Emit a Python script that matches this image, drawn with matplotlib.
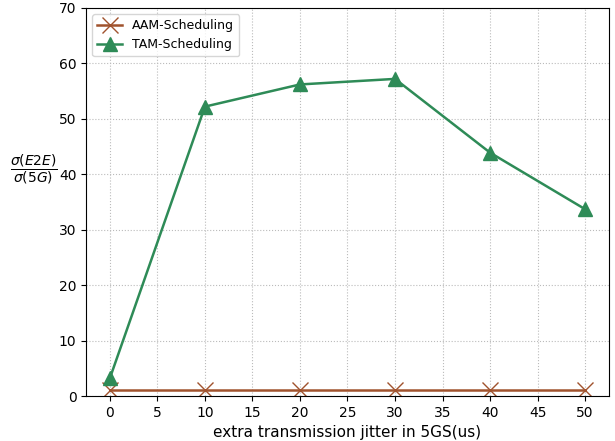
import matplotlib
matplotlib.use('Agg')
import matplotlib.pyplot as plt

jitter = [0, 10, 20, 30, 40, 50]
aam = [1.0, 1.0, 1.0, 1.0, 1.0, 1.0]
tam = [3.2, 52.2, 56.2, 57.2, 43.9, 33.7]


def main():
    fig = plt.figure(figsize=(6.15, 4.41), dpi=100)
    ax = fig.add_axes([0.140, 0.102, 0.850, 0.880])

    ax.plot(jitter, aam, color='#a0522d', marker='x', markersize=11, linewidth=1.8,
            label='AAM-Scheduling')
    ax.plot(jitter, tam, color='#2e8b57', marker='^', markersize=10, linewidth=1.8,
            label='TAM-Scheduling')

    ax.set_ylim(0, 70)
    ax.set_xticks(range(0, 55, 5))
    ax.grid(linestyle=':', linewidth=0.8, color='#bbbbbb')
    ax.set_xlabel('extra transmission jitter in 5GS(us)', fontsize=11)
    ax.set_ylabel(r'$\dfrac{\sigma(E2E)}{\sigma(5G)}$', fontsize=10, rotation=0)
    ax.yaxis.set_label_coords(-0.10, 0.54)
    ax.legend(loc='upper left', fontsize=9)
    fig.savefig('out.png', dpi=100)


if __name__ == '__main__':
    main()
